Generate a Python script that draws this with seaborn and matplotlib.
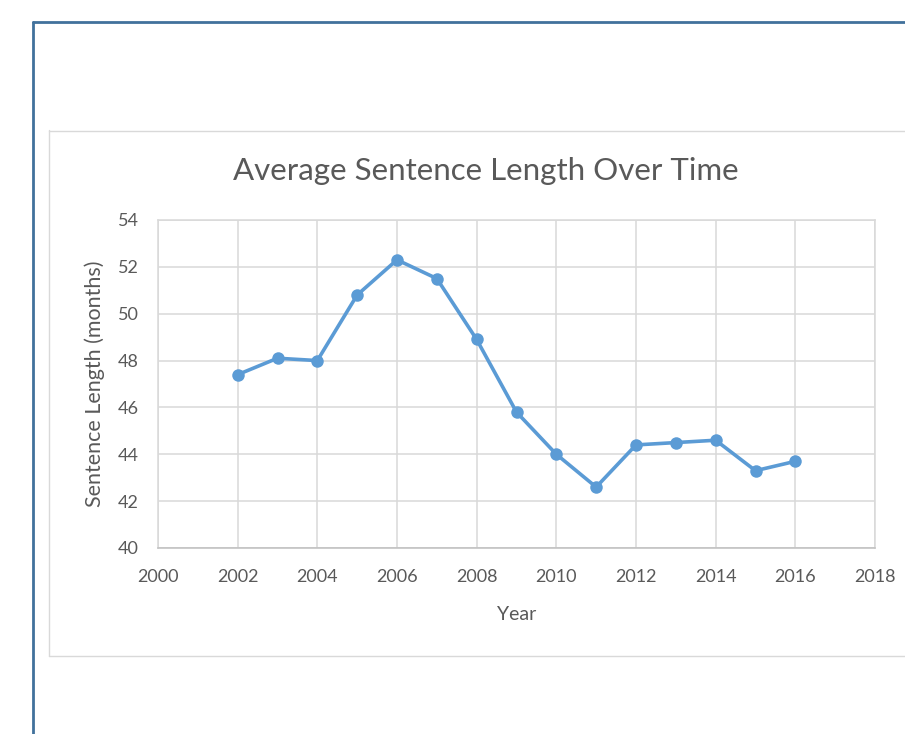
import matplotlib
matplotlib.use("Agg")
import matplotlib.pyplot as plt
import seaborn as sns
import pandas as pd
from matplotlib.lines import Line2D

years = [2002, 2003, 2004, 2005, 2006, 2007, 2008, 2009, 2010, 2011, 2012, 2013, 2014, 2015, 2016]
sentence_length = [47.4, 48.1, 48.0, 50.8, 52.3, 51.5, 48.9, 45.8, 44.0, 42.6, 44.4, 44.5, 44.6, 43.3, 43.7]
x_ticks = [2000, 2002, 2004, 2006, 2008, 2010, 2012, 2014, 2016, 2018]
y_ticks = [40, 42, 44, 46, 48, 50, 52, 54]
title = "Average Sentence Length Over Time"
x_label = "Year"
y_label = "Sentence Length (months)"

df = pd.DataFrame({"Year": years, "Length": sentence_length})

sns.set_theme(style="white")
plt.rcParams['font.family'] = ['Lato', 'DejaVu Sans']

W, H = 905, 734
fig = plt.figure(figsize=(W / 100, H / 100), dpi=100)
fig.patch.set_facecolor("white")

def fx(px):
    return px / W

def fy(py):
    return 1 - py / H

# outer blue frame (left and top edges)
fig.add_artist(Line2D([fx(33), fx(33)], [fy(22), fy(H + 5)], color="#41719C", lw=2.0, transform=fig.transFigure))
fig.add_artist(Line2D([fx(33), fx(W + 5)], [fy(22), fy(22)], color="#41719C", lw=2.0, transform=fig.transFigure))
# chart area gray box
fig.add_artist(Line2D([fx(48.5), fx(48.5)], [fy(130), fy(656)], color="#D9D9D9", lw=1.0, transform=fig.transFigure))
fig.add_artist(Line2D([fx(48.5), fx(W + 5)], [fy(130.5), fy(130.5)], color="#D9D9D9", lw=1.0, transform=fig.transFigure))
fig.add_artist(Line2D([fx(48.5), fx(W + 5)], [fy(656), fy(656)], color="#D9D9D9", lw=1.0, transform=fig.transFigure))

ax = fig.add_axes([fx(158), fy(548), (875 - 158) / W, (548 - 220) / H])
sns.lineplot(data=df, x="Year", y="Length", ax=ax, color="#5B9BD5", linewidth=2.6,
             marker="o", markersize=9, markeredgewidth=0, markeredgecolor="#5B9BD5")

ax.set_xlim(2000, 2018)
ax.set_ylim(40, 54)
ax.set_xticks(x_ticks)
ax.set_yticks(y_ticks)
ax.set_xticklabels([str(t) for t in x_ticks])
ax.set_yticklabels([str(t) for t in y_ticks])
ax.grid(True, color="#D9D9D9", linewidth=1.1)
ax.set_axisbelow(True)
for s in ax.spines.values():
    s.set_color("#D9D9D9")
    s.set_linewidth(1.1)
ax.spines["bottom"].set_color("#BFBFBF")
ax.tick_params(axis="both", length=0, labelsize=13, labelcolor="#595959")
ax.tick_params(axis="y", pad=14)
ax.tick_params(axis="x", pad=15)

ax.set_xlabel(x_label, fontsize=14, color="#595959", labelpad=15)
ax.set_ylabel(y_label, fontsize=15.5, color="#595959", labelpad=9)
fig.text(fx(486), fy(171), title, fontsize=22.5, color="#595959", ha="center", va="center")

fig.savefig("out.png", dpi=100, facecolor="white")
